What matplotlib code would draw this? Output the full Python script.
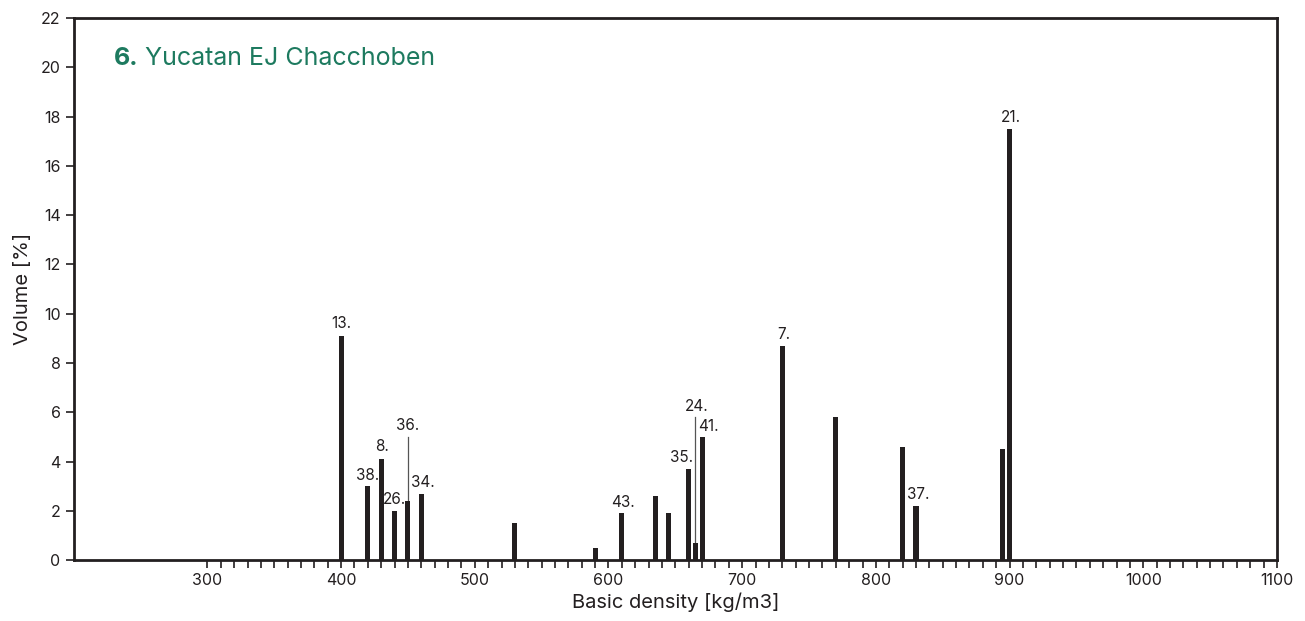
import numpy as np
import matplotlib
matplotlib.use("Agg")
import matplotlib.pyplot as plt

plt.rcParams["font.family"] = ["Inter", "DejaVu Sans"]

# basic density [kg/m3] and volume share [%] per species
density = [400, 420, 430, 440, 450, 460, 530, 590, 610, 635, 645,
           660, 665, 670, 730, 770, 820, 830, 895, 900]
volume = [9.1, 3.0, 4.1, 2.0, 2.4, 2.7, 1.5, 0.5, 1.9, 2.6, 1.9,
          3.7, 0.7, 5.0, 8.7, 5.8, 4.6, 2.2, 4.5, 17.5]

# species labels: (text, label x, label y, bar x, leader-line top or None)
labels = [("13.", 400, 9.3, None, None),
          ("38.", 420, 3.15, None, None),
          ("8.", 431, 4.3, None, None),
          ("26.", 440, 2.15, None, None),
          ("36.", 450, 5.15, 450, 5.0),
          ("34.", 461, 2.85, None, None),
          ("43.", 611, 2.05, None, None),
          ("35.", 655, 3.85, None, None),
          ("24.", 666, 5.95, 665, 5.8),
          ("41.", 675, 5.1, None, None),
          ("7.", 731, 8.85, None, None),
          ("37.", 832, 2.35, None, None),
          ("21.", 901, 17.65, None, None)]

INK = "#231f20"
GREEN = "#1d7a5f"

fig = plt.figure(figsize=(13.05, 6.21), dpi=100)
ax = fig.add_axes([0.0565, 0.098, 0.922, 0.873])

ax.bar(density, volume, width=3.8, color=INK, zorder=3)

for txt, lx, ly, bx, top in labels:
    if top is not None:
        i = density.index(bx)
        ax.plot([bx, bx], [volume[i], top], color="#555555", lw=0.9, zorder=2)
    ax.text(lx, ly, txt, ha="center", va="bottom", fontsize=11, color=INK)

ax.set_xlim(200, 1100)
ax.set_ylim(0, 22)
ax.set_xticks(np.arange(300, 1101, 100))
ax.set_xticks(np.arange(300, 1101, 10), minor=True)
ax.set_yticks(np.arange(0, 23, 2))
ax.tick_params(axis="both", which="both", direction="out", length=6,
               width=1.2, color=INK, labelsize=11.5, labelcolor=INK)
for s in ax.spines.values():
    s.set_linewidth(2)
    s.set_color(INK)

ax.set_xlabel("Basic density [kg/m3]", fontsize=14.5, color=INK, labelpad=3)
ax.set_ylabel("Volume [%]", fontsize=14.5, color=INK, labelpad=6)

t1 = ax.text(0.033, 0.925, "6.", transform=ax.transAxes, fontsize=18,
             fontweight="bold", color=GREEN, va="center")
ax.annotate(" Yucatan EJ Chacchoben", xy=(1, 0), xycoords=t1,
            va="bottom", ha="left", fontsize=18, color=GREEN)

fig.savefig("out.png", dpi=100)
